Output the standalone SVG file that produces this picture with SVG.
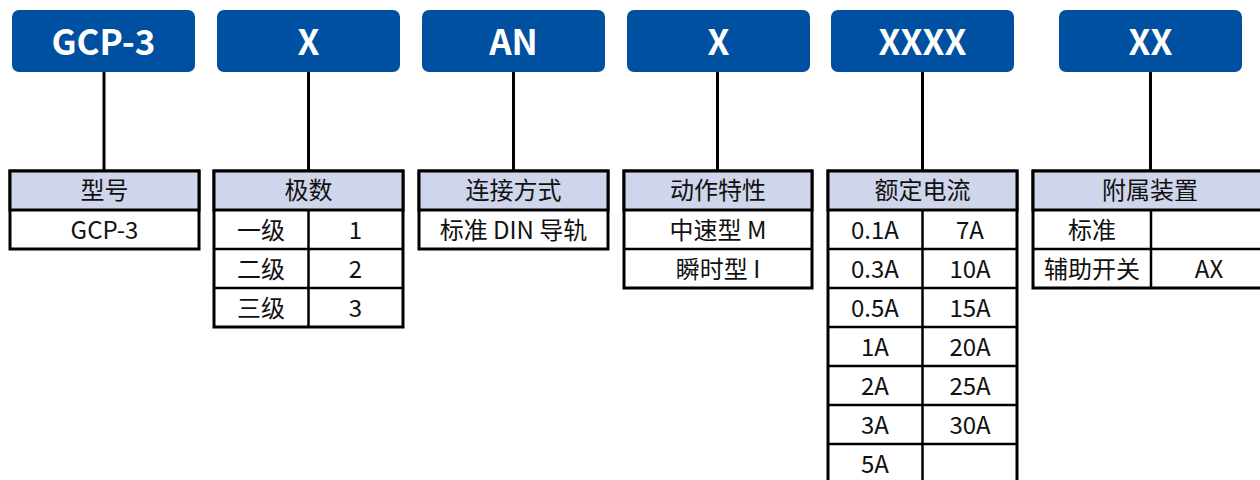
<svg xmlns="http://www.w3.org/2000/svg" width="1260" height="480" viewBox="0 0 1260 480">
<style>
.code{fill:#0050A1;}
.codet{font-family:"Noto Sans CJK SC","Noto Sans",sans-serif;font-weight:700;font-size:35px;fill:#fff;text-anchor:middle;}
.hdr{fill:#CFD5EA;stroke:#000;stroke-width:3;}
.cell{fill:#fff;stroke:#000;stroke-width:3;}
.ln{stroke:#000;stroke-width:2.5;fill:none;}
.t{font-family:"Noto Sans CJK SC","Noto Sans",sans-serif;font-size:24px;fill:#111;text-anchor:middle;}
.conn{stroke:#000;stroke-width:3;fill:none;}
</style>
<rect width="1260" height="480" fill="#fff"/>
<g id="connectors">
<line class="conn" x1="104" y1="72" x2="104" y2="171"/>
<line class="conn" x1="308.5" y1="72" x2="308.5" y2="171" stroke-width="2"/>
<line class="conn" x1="513.5" y1="72" x2="513.5" y2="171"/>
<line class="conn" x1="717.5" y1="72" x2="717.5" y2="171"/>
<line class="conn" x1="922.5" y1="72" x2="922.5" y2="171"/>
<line class="conn" x1="1150.5" y1="72" x2="1150.5" y2="171"/>
</g>
<g id="code-gcp3"><rect class="code" x="12" y="10" width="183" height="62" rx="7"/><text class="codet" x="103.5" y="55">GCP-3</text></g>
<g id="code-x1"><rect class="code" x="217" y="10" width="183" height="62" rx="7"/><text class="codet" x="308.5" y="55">X</text></g>
<g id="code-an"><rect class="code" x="422" y="10" width="183" height="62" rx="7"/><text class="codet" x="513.5" y="55">AN</text></g>
<g id="code-x2"><rect class="code" x="627" y="10" width="183" height="62" rx="7"/><text class="codet" x="718.5" y="55">X</text></g>
<g id="code-xxxx"><rect class="code" x="831" y="10" width="183" height="62" rx="7"/><text class="codet" x="922.5" y="55">XXXX</text></g>
<g id="code-xx"><rect class="code" x="1059" y="10" width="183" height="62" rx="7"/><text class="codet" x="1150.5" y="55">XX</text></g>

<g id="table-model">
<rect class="cell" x="10" y="171" width="189" height="78"/>
<rect class="hdr" x="10" y="171" width="189" height="39"/>
<text class="t" x="104.5" y="199">型号</text>
<text class="t" x="104.5" y="238.5">GCP-3</text>
</g>

<g id="table-poles">
<rect class="cell" x="214" y="171" width="189" height="156"/>
<rect class="hdr" x="214" y="171" width="189" height="39"/>
<line class="ln" x1="214" y1="249" x2="403" y2="249"/>
<line class="ln" x1="214" y1="288" x2="403" y2="288"/>
<line class="ln" x1="308.5" y1="210" x2="308.5" y2="327"/>
<text class="t" x="308.5" y="199">极数</text>
<text class="t" x="261" y="238.5">一级</text><text class="t" x="355.5" y="238.5">1</text>
<text class="t" x="261" y="277.5">二级</text><text class="t" x="355.5" y="277.5">2</text>
<text class="t" x="261" y="316.5">三级</text><text class="t" x="355.5" y="316.5">3</text>
</g>

<g id="table-connection">
<rect class="cell" x="419" y="171" width="189" height="78"/>
<rect class="hdr" x="419" y="171" width="189" height="39"/>
<text class="t" x="513.5" y="199">连接方式</text>
<text class="t" x="513.5" y="238.5">标准 DIN 导轨</text>
</g>

<g id="table-action">
<rect class="cell" x="624" y="171" width="188" height="117"/>
<rect class="hdr" x="624" y="171" width="188" height="39"/>
<line class="ln" x1="624" y1="249" x2="812" y2="249"/>
<text class="t" x="718" y="199">动作特性</text>
<text class="t" x="718" y="238.5">中速型 M</text>
<text class="t" x="718" y="277.5">瞬时型 I</text>
</g>

<g id="table-current">
<rect class="cell" x="828" y="171" width="189" height="320"/>
<rect class="hdr" x="828" y="171" width="189" height="39"/>
<line class="ln" x1="828" y1="249" x2="1017" y2="249"/>
<line class="ln" x1="828" y1="288" x2="1017" y2="288"/>
<line class="ln" x1="828" y1="327" x2="1017" y2="327"/>
<line class="ln" x1="828" y1="366" x2="1017" y2="366"/>
<line class="ln" x1="828" y1="405" x2="1017" y2="405"/>
<line class="ln" x1="828" y1="444" x2="1017" y2="444"/>
<line class="ln" x1="922.5" y1="210" x2="922.5" y2="490"/>
<text class="t" x="922.5" y="199">额定电流</text>
<text class="t" x="875" y="238.5">0.1A</text><text class="t" x="970" y="238.5">7A</text>
<text class="t" x="875" y="277.5">0.3A</text><text class="t" x="970" y="277.5">10A</text>
<text class="t" x="875" y="316.5">0.5A</text><text class="t" x="970" y="316.5">15A</text>
<text class="t" x="875" y="355.5">1A</text><text class="t" x="970" y="355.5">20A</text>
<text class="t" x="875" y="394.5">2A</text><text class="t" x="970" y="394.5">25A</text>
<text class="t" x="875" y="433.5">3A</text><text class="t" x="970" y="433.5">30A</text>
<text class="t" x="875" y="472.5">5A</text>
</g>

<g id="table-accessory">
<rect class="cell" x="1033" y="171" width="234" height="117"/>
<rect class="hdr" x="1033" y="171" width="234" height="39"/>
<line class="ln" x1="1033" y1="249" x2="1267" y2="249"/>
<line class="ln" x1="1151" y1="210" x2="1151" y2="288"/>
<text class="t" x="1150" y="199">附属装置</text>
<text class="t" x="1092" y="238.5">标准</text>
<text class="t" x="1092" y="277.5">辅助开关</text><text class="t" x="1209" y="277.5">AX</text>
</g>
</svg>
